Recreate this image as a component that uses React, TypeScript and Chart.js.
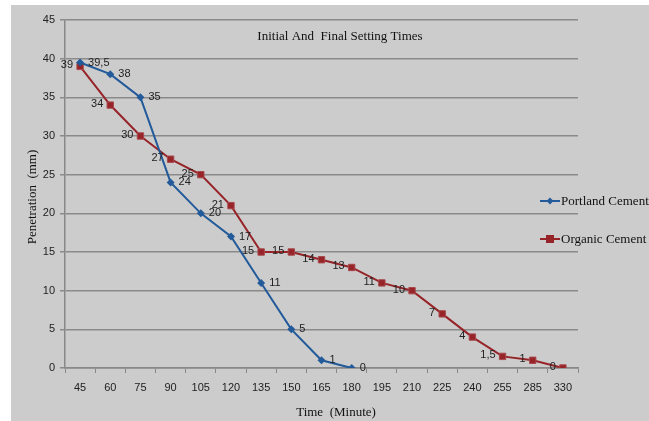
import React, { useEffect, useRef } from "react";
import { Chart, registerables } from "chart.js";

Chart.register(...registerables);

const categories = ["45", "60", "75", "90", "105", "120", "135", "150", "165", "180", "195", "210", "225", "240", "255", "285", "330"];
const portlandValues = [39.5, 38, 35, 24, 20, 17, 11, 5, 1, 0];
const portlandLabels = ["39,5", "38", "35", "24", "20", "17", "11", "5", "1", "0"];
const organicValues = [39, 34, 30, 27, 25, 21, 15, 15, 14, 13, 11, 10, 7, 4, 1.5, 1, 0];
const organicLabels = ["39", "34", "30", "27", "25", "21", "15", "15", "14", "13", "11", "10", "7", "4", "1,5", "1", "0"];
const titleText = "Initial And  Final Setting Times";
const xTitle = "Time  (Minute)";
const yTitle = "Penetration  (mm)";

const BLUE = "#235a9a";
const RED = "#962428";
const LABEL_FONT = "11px 'Liberation Sans', Arial, sans-serif";
const SERIF = "'Liberation Serif', 'Times New Roman', serif";

const overlay = {
  id: "overlay",
  afterDatasetsDraw(chart: any) {
    const ctx = chart.ctx;
    ctx.save();
    // data labels
    ctx.font = LABEL_FONT;
    ctx.fillStyle = "#222";
    ctx.textBaseline = "middle";
    const m0 = chart.getDatasetMeta(0);
    m0.data.forEach((pt: any, i: number) => {
      ctx.textAlign = "left";
      ctx.fillText(portlandLabels[i], pt.x + 8, pt.y);
    });
    const m1 = chart.getDatasetMeta(1);
    m1.data.forEach((pt: any, i: number) => {
      ctx.textAlign = "right";
      ctx.fillText(organicLabels[i], pt.x - 7, pt.y - 1);
    });
    // title
    ctx.font = "13px " + SERIF;
    ctx.fillStyle = "#111";
    ctx.textAlign = "center";
    ctx.fillText(titleText, 329, 32);
    // axis titles
    ctx.font = "13px " + SERIF;
    ctx.fillText(xTitle, 325, 408);
    ctx.save();
    ctx.translate(22, 192);
    ctx.rotate(-Math.PI / 2);
    ctx.fillText(yTitle, 0, 0);
    ctx.restore();
    // legend
    const items = [
      { label: "Portland Cement", color: BLUE, y: 196, shape: "diamond" },
      { label: "Organic Cement", color: RED, y: 234, shape: "square" },
    ];
    items.forEach((it) => {
      ctx.strokeStyle = it.color;
      ctx.lineWidth = 2;
      ctx.beginPath();
      ctx.moveTo(529, it.y);
      ctx.lineTo(549, it.y);
      ctx.stroke();
      ctx.fillStyle = it.color;
      if (it.shape === "diamond") {
        ctx.beginPath();
        ctx.moveTo(539, it.y - 3.5);
        ctx.lineTo(542.5, it.y);
        ctx.lineTo(539, it.y + 3.5);
        ctx.lineTo(535.5, it.y);
        ctx.closePath();
        ctx.fill();
      } else {
        ctx.fillRect(535, it.y - 4, 8, 8);
      }
      ctx.font = "13px " + SERIF;
      ctx.fillStyle = "#111";
      ctx.textAlign = "left";
      ctx.fillText(it.label, 550, it.y + 1);
    });
    ctx.restore();
  },
};

export default function App() {
  const ref = useRef<HTMLCanvasElement | null>(null);
  useEffect(() => {
    document.body.style.margin = "0";
    const canvas = ref.current!;
    const chart = new Chart(canvas, {
      type: "line",
      data: {
        labels: categories,
        datasets: [
          {
            label: "Portland Cement",
            data: portlandValues,
            borderColor: BLUE,
            backgroundColor: BLUE,
            borderWidth: 2,
            pointStyle: "rectRot",
            pointRadius: 4,
            pointBorderWidth: 0,
            tension: 0,
          },
          {
            label: "Organic Cement",
            data: organicValues,
            borderColor: RED,
            backgroundColor: RED,
            borderWidth: 2,
            pointStyle: "rect",
            pointRadius: 4.5,
            pointBorderWidth: 1,
            pointBorderColor: "#a8484c",
            tension: 0,
          },
        ],
      },
      options: {
        responsive: false,
        animation: false,
        layout: { padding: { left: 0, top: 15, right: 71, bottom: 0 } },
        plugins: {
          legend: { display: false },
          title: { display: false },
          tooltip: { enabled: false },
        },
        scales: {
          x: {
            type: "category",
            offset: true,
            grid: {
              offset: true,
              drawOnChartArea: false,
              drawTicks: true,
              tickLength: 5,
              color: "#888",
            },
            border: { color: "#888", width: 1.5 },
            ticks: {
              font: { family: "'Liberation Sans', Arial, sans-serif", size: 11 },
              color: "#222",
              padding: 8,
              maxRotation: 0,
              autoSkip: false,
            },
            afterFit(scale: any) {
              scale.height = 53;
            },
          },
          y: {
            min: 0,
            max: 45,
            ticks: {
              stepSize: 5,
              font: { family: "'Liberation Sans', Arial, sans-serif", size: 11 },
              color: "#222",
              padding: 5,
            },
            grid: {
              color: "#8a8a8a",
              lineWidth: 1.5,
              tickLength: 5,
            },
            border: { color: "#888", width: 1.5 },
            afterFit(scale: any) {
              scale.width = 54;
            },
          },
        },
      },
      plugins: [overlay],
    });
    return () => chart.destroy();
  }, []);
  return (
    <div style={{ position: "relative", width: 649, height: 421, background: "#fff", overflow: "hidden" }}>
      <canvas
        ref={ref}
        width={638}
        height={416}
        style={{ position: "absolute", left: 11, top: 5, width: 638, height: 416, background: "#cccccc" }}
      />
    </div>
  );
}
